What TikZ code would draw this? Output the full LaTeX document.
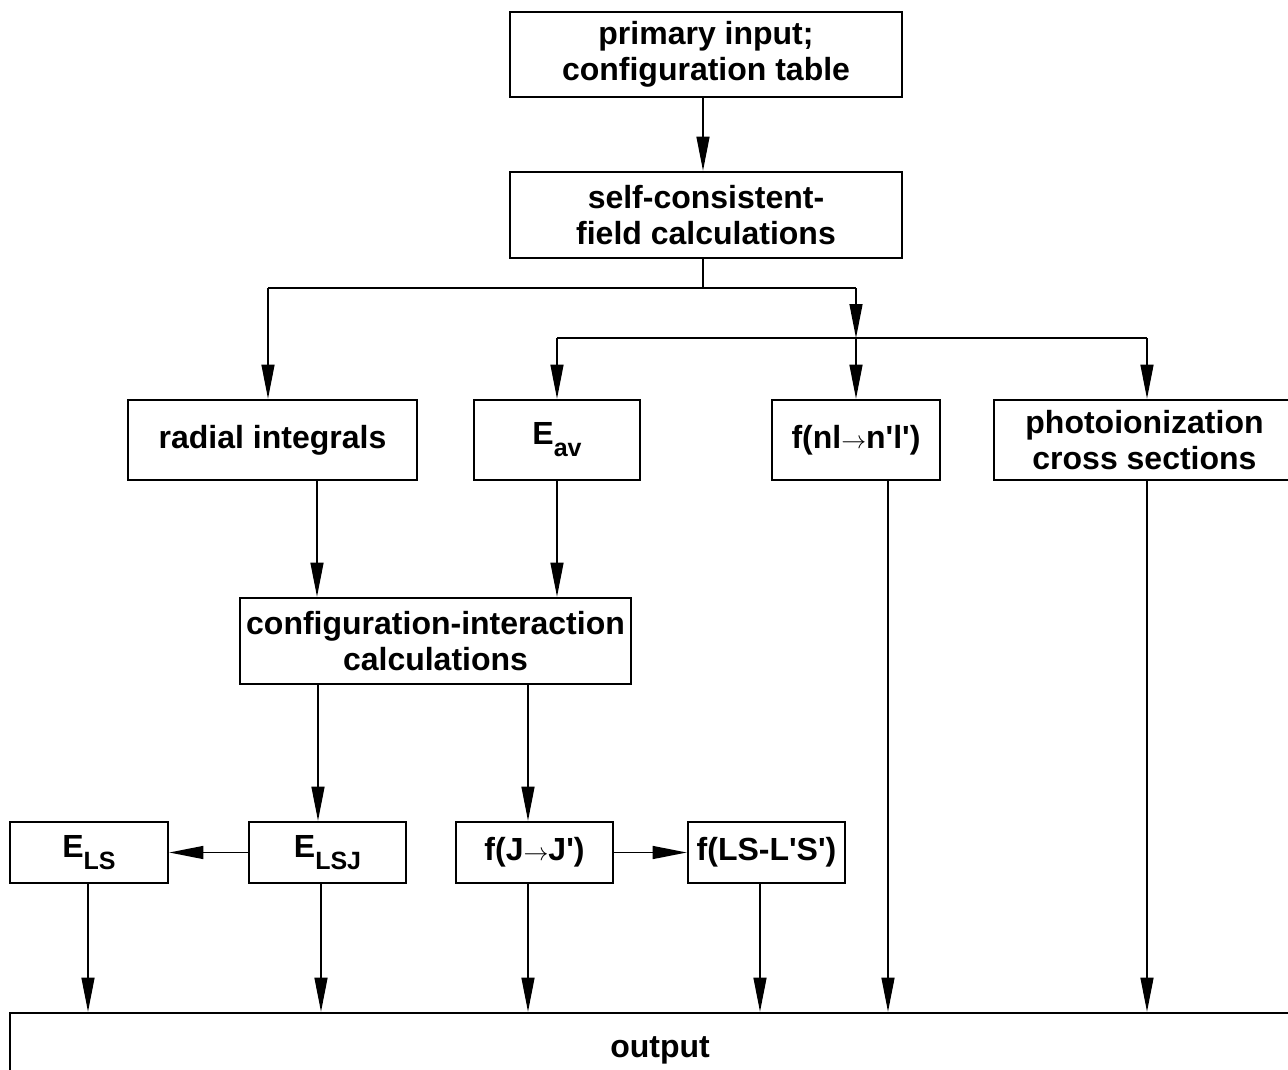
\documentclass[tikz,border=0pt]{standalone}
\usepackage{fontspec}
\newfontfamily\hv{Liberation Sans}[BoldFont={Liberation Sans Bold}]
\usetikzlibrary{arrows.meta}
\newcommand\lowsub[1]{\raisebox{-0.38em}{\fontsize{25}{25}\selectfont #1}}
\newcommand\thinarrow{\,$\rightarrow$\,}
\begin{document}
\begin{tikzpicture}[x=1pt,y=-1pt,
  box/.style={draw,line width=2.6pt,rectangle,inner sep=0pt,align=center,
    font=\hv\bfseries\fontsize{32}{36}\selectfont},
  conn/.style={line width=1.3pt},
  arr/.style={conn,-{Triangle[length=34pt,width=13pt]}}]
\useasboundingbox (0,0) rectangle (1288,1070);
% boxes
\node[box,minimum width=392pt,minimum height=85pt] (prim) at (706,54.5) {primary input;\\configuration table};
\node[box,minimum width=392pt,minimum height=86pt] (scf) at (706,215) {self-consistent-\\field calculations};
\node[box,minimum width=289pt,minimum height=80pt] (rad) at (272.5,440) {radial integrals};
\node[box,minimum width=166pt,minimum height=80pt] (eav) at (557,440) {E\lowsub{av}};
\node[box,minimum width=168pt,minimum height=80pt] (fnl) at (856,440) {f(nl{\fontsize{28}{28}\selectfont$\rightarrow$}n'l')};
\node[box,minimum width=301pt,minimum height=80pt] (photo) at (1144.5,440) {photoionization\\cross sections};
\node[box,minimum width=391pt,minimum height=86pt] (ci) at (435.5,641) {configuration-interaction\\calculations};
\node[box,minimum width=158pt,minimum height=61pt] (els) at (89,852.5) {E\lowsub{LS}};
\node[box,minimum width=157pt,minimum height=61pt] (elsj) at (327.5,852.5) {E\lowsub{LSJ}};
\node[box,minimum width=157pt,minimum height=61pt] (fjj) at (534.5,852.5) {f(J{\fontsize{28}{28}\selectfont$\rightarrow$}J')};
\node[box,minimum width=157pt,minimum height=61pt] (flsls) at (766.5,852.5) {f(LS-L'S')};
\node[box,minimum width=1300pt,minimum height=74pt] (out) at (660,1050) {output};
% junction coordinates
\coordinate (hL) at (268,288);
\coordinate (hR) at (856,288);
\coordinate (gL) at (557,338);
\coordinate (gM) at (856,338);
\coordinate (gR) at (1147,338);
% connectors
\draw[arr] (prim.south -| 703,0) -- (scf.north -| 703,0);
\draw[conn] (scf.south -| 703,0) -- (hL -| 703,0);
\draw[conn] (hL) -- (hR);
\draw[arr] (hL) -- (hL |- rad.north);
\draw[arr] (hR) -- (gM);
\draw[conn] (gL) -- (gR);
\draw[arr] (gL) -- (gL |- eav.north);
\draw[arr] (gM) -- (gM |- fnl.north);
\draw[arr] (gR) -- (gR |- photo.north);
\draw[arr] (rad.south -| 317,0) -- (ci.north -| 317,0);
\draw[arr] (eav.south) -- (eav.south |- ci.north);
\draw[arr] (ci.south -| 318,0) -- (elsj.north -| 318,0);
\draw[arr] (ci.south -| 528,0) -- (fjj.north -| 528,0);
\draw[arr] (elsj.west) -- (els.east);
\draw[arr] (fjj.east) -- (flsls.west);
\draw[arr] (els.south -| 88,0) -- (out.north -| 88,0);
\draw[arr] (elsj.south -| 321,0) -- (out.north -| 321,0);
\draw[arr] (fjj.south -| 528,0) -- (out.north -| 528,0);
\draw[arr] (flsls.south -| 760,0) -- (out.north -| 760,0);
\draw[arr] (fnl.south -| 888,0) -- (out.north -| 888,0);
\draw[arr] (photo.south -| 1147,0) -- (out.north -| 1147,0);
\end{tikzpicture}
\end{document}
